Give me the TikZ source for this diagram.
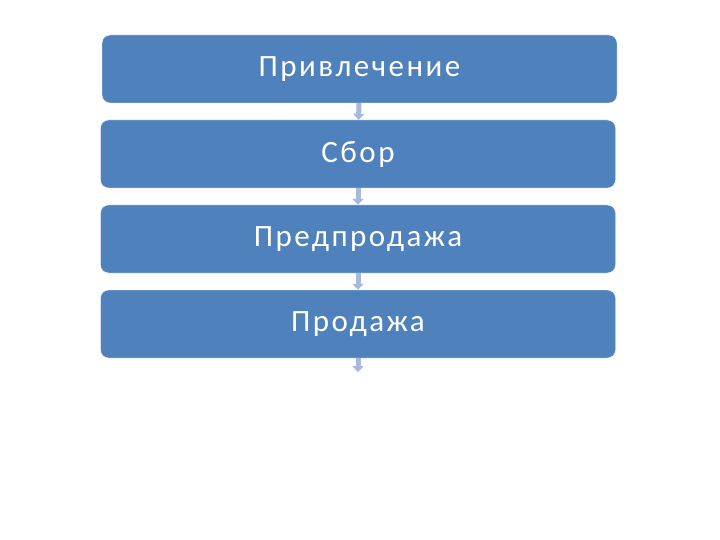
\documentclass[tikz,border=0pt]{standalone}
\usepackage{fontspec}
\setmainfont{Carlito}
\newfontfamily\stagefont[LetterSpace=8]{Carlito}
\usepackage{tikz}
\usetikzlibrary{arrows.meta}
\definecolor{boxblue}{HTML}{4F81BD}
\definecolor{arrowgrey}{HTML}{A9B9DB}
\tikzstyle{stage} = [rectangle, rounded corners=8pt, minimum width=515pt, minimum height=68pt, text centered, draw=white, fill=boxblue, text=white, font=\stagefont\fontsize{31}{35}\selectfont]
\tikzstyle{arrow} = [arrowgrey, line width=5pt, -{Triangle[width=11pt,length=6pt]}]

\begin{document}
\begin{tikzpicture}[x=1pt, y=-1pt, node distance=85pt]
        \useasboundingbox (0,0) rectangle (720,540);
        \node (attract) [stage] at (359.5,69) {Привлечение};
        \node (collect) [stage, below of=attract, xshift=-1.5pt] {Сбор};
        \node (presale) [stage, below of=collect] {Предпродажа};
        \node (sale) [stage, below of=presale] {Продажа};
        \coordinate (end) at ([yshift=-14pt]sale.south);

        \draw [arrow] (attract) -- (collect);
        \draw [arrow] (collect) -- (presale);
        \draw [arrow] (presale) -- (sale);
        \draw [arrow] (sale.south) -- (end);
\end{tikzpicture}
\end{document}
